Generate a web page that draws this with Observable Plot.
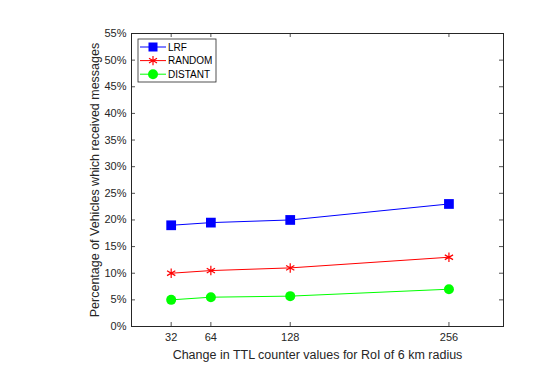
<!DOCTYPE html>
<html><head><meta charset="utf-8">
<script src="https://cdn.jsdelivr.net/npm/d3@7"></script>
<script src="https://cdn.jsdelivr.net/npm/@observablehq/plot@0.6"></script>
<style>body{margin:0;background:#fff}</style>
</head><body><div id="chart"></div>
<script>
const ttl = [32, 64, 128, 256];
const lrf = [19, 19.5, 20, 23];
const random = [10, 10.5, 11, 13];
const distant = [5, 5.5, 5.7, 7];
const yTicks = [0,5,10,15,20,25,30,35,40,45,50,55];
const seriesNames = ["LRF", "RANDOM", "DISTANT"];
const seriesColors = ["#0000ff", "#ff0000", "#00ff00"];

const rows = [];
[lrf, random, distant].forEach((vals, i) => vals.forEach((v, j) => rows.push({x: ttl[j], y: v, s: seriesNames[i]})));
const byS = s => rows.filter(d => d.s === s);

const W = 541, H = 366, ML = 131, MR = 38, MT = 33, MB = 40;
const PW = W - ML - MR, PH = H - MT - MB;
const axisColor = "#262626";
const font = "Liberation Sans, Arial, sans-serif";

function legend(index, scales, values, dims) {
  const g = d3.create("svg:g").attr("font-family", font).attr("font-size", 10).attr("text-anchor", "start");
  const x0 = dims.marginLeft + 7, y0 = dims.marginTop + 6;
  g.append("rect").attr("x", x0).attr("y", y0).attr("width", 78).attr("height", 43)
    .attr("fill", "#fff").attr("stroke", axisColor).attr("stroke-width", 0.8);
  seriesNames.forEach((n, i) => {
    const cy = y0 + 8 + i * 13.6;
    const c = seriesColors[i];
    g.append("line").attr("x1", x0 + 2).attr("x2", x0 + 28).attr("y1", cy).attr("y2", cy).attr("stroke", c);
    const cx = x0 + 15;
    if (i === 0) g.append("rect").attr("x", cx - 4.5).attr("y", cy - 4.5).attr("width", 9).attr("height", 9).attr("fill", c);
    else if (i === 1) {
      const p = d3.symbol(d3.symbolAsterisk, 60)();
      g.append("path").attr("d", p).attr("transform", `translate(${cx},${cy})`).attr("stroke", c).attr("fill", "none").attr("stroke-width", 1.2);
    } else g.append("circle").attr("cx", cx).attr("cy", cy).attr("r", 5).attr("fill", c);
    g.append("text").attr("x", x0 + 30).attr("y", cy).attr("dy", "0.35em").attr("fill", "#000").text(n);
  });
  return g.node();
}

const chart = Plot.plot({
  width: W, height: H,
  marginLeft: ML, marginRight: MR, marginTop: MT, marginBottom: MB,
  style: {fontFamily: font, fontSize: "11px", color: axisColor, background: "#fff"},
  x: {type: "linear", domain: [0, 300]},
  y: {domain: [0, 55]},
  marks: [
    Plot.axisY(yTicks, {tickSize: 0, tickPadding: 5, tickFormat: d => d + "%", fontSize: 11, fill: axisColor, label: null}),
    Plot.axisY({tickSize: 0, ticks: [], fontSize: 12.5, fill: axisColor,
      label: "Percentage of Vehicles which received messages", labelAnchor: "center", labelArrow: "none", labelOffset: 41}),
    Plot.axisX(ttl, {tickSize: 0, tickPadding: 7, fontSize: 11, fill: axisColor, label: null}),
    Plot.axisX({tickSize: 0, ticks: [], fontSize: 12.5, fill: axisColor,
      label: "Change in TTL counter values for RoI of 6 km radius", labelAnchor: "center", labelArrow: "none", labelOffset: 32}),
    Plot.tickY(yTicks, {y: d => d, insetRight: PW - 4, stroke: axisColor, strokeWidth: 0.8}),
    Plot.tickY(yTicks, {y: d => d, insetLeft: PW - 4, stroke: axisColor, strokeWidth: 0.8}),
    Plot.tickX(ttl, {x: d => d, insetTop: PH - 4, stroke: axisColor, strokeWidth: 0.8}),
    Plot.tickX(ttl, {x: d => d, insetBottom: PH - 4, stroke: axisColor, strokeWidth: 0.8}),
    Plot.frame({stroke: axisColor, strokeWidth: 1}),
    Plot.line(byS("LRF"), {x: "x", y: "y", stroke: seriesColors[0], strokeWidth: 1}),
    Plot.line(byS("RANDOM"), {x: "x", y: "y", stroke: seriesColors[1], strokeWidth: 1}),
    Plot.line(byS("DISTANT"), {x: "x", y: "y", stroke: seriesColors[2], strokeWidth: 1}),
    Plot.dot(byS("LRF"), {x: "x", y: "y", symbol: "square", r: 5.5, fill: seriesColors[0]}),
    Plot.dot(byS("RANDOM"), {x: "x", y: "y", symbol: "asterisk", r: 4.5, stroke: seriesColors[1], strokeWidth: 1.2}),
    Plot.dot(byS("DISTANT"), {x: "x", y: "y", symbol: "circle", r: 5, fill: seriesColors[2]}),
    legend
  ]
});
document.getElementById("chart").appendChild(chart);
</script>
</body></html>
